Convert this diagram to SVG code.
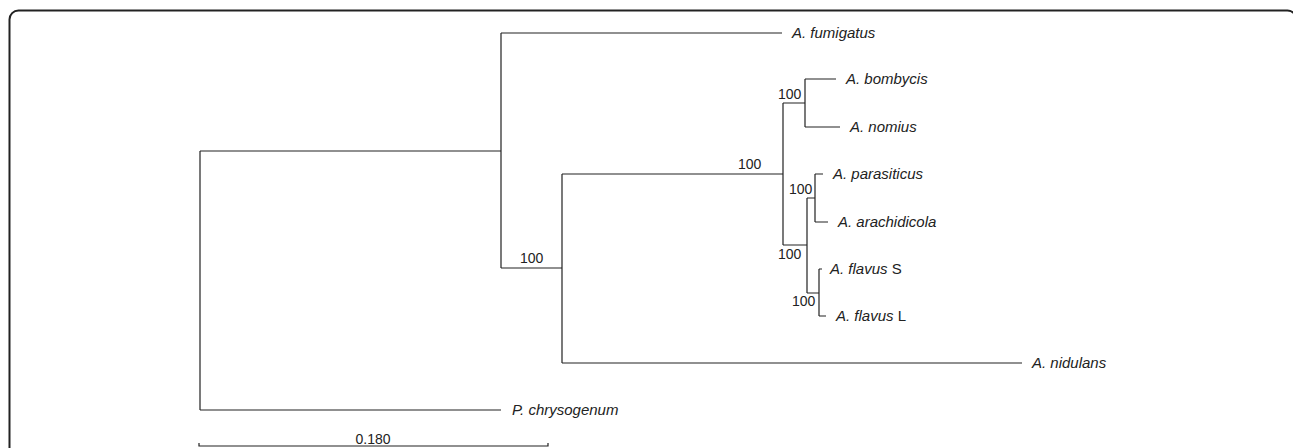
<svg xmlns="http://www.w3.org/2000/svg" width="1293" height="448" viewBox="0 0 1293 448">
<style>
.frame{fill:none;stroke:#222;stroke-width:2}
.br{fill:none;stroke:#222;stroke-width:1.2}
.tx{font-family:"Liberation Sans",Arial,sans-serif;font-size:14px;fill:#222}
.nm{font-size:15px}
.sp{font-style:italic}
</style>
<rect class="frame" x="9.5" y="10.5" width="1287" height="470" rx="9"/>
<g id="connectors">
<path class="br" d="M200,151 V410 M200,151 H501 M200,410 H501"/>
<path class="br" d="M501,33 V268 M501,33 H782 M501,268 H562"/>
<path class="br" d="M562,174 V363 M562,174 H783 M562,363 H1022"/>
<path class="br" d="M783,103 V245 M783,103 H805 M783,245 H807"/>
<path class="br" d="M805,79 V127 M805,79 H836 M805,127 H840"/>
<path class="br" d="M807,198 V293 M807,198 H815 M807,293 H819"/>
<path class="br" d="M815,174 V222 M815,174 H823 M815,222 H828"/>
<path class="br" d="M819,269 V316 M819,269 H822 M819,316 H826"/>
</g>
<g id="taxa">
<g id="fumigatus"><text class="tx nm sp" x="792" y="38">A. fumigatus</text></g>
<g id="bombycis"><text class="tx nm sp" x="846" y="84">A. bombycis</text></g>
<g id="nomius"><text class="tx nm sp" x="850" y="132">A. nomius</text></g>
<g id="parasiticus"><text class="tx nm sp" x="833" y="179">A. parasiticus</text></g>
<g id="arachidicola"><text class="tx nm sp" x="838" y="227">A. arachidicola</text></g>
<g id="flavusS"><text class="tx nm" x="830" y="274"><tspan class="sp">A. flavus</tspan> S</text></g>
<g id="flavusL"><text class="tx nm" x="836" y="321"><tspan class="sp">A. flavus</tspan> L</text></g>
<g id="nidulans"><text class="tx nm sp" x="1032" y="368">A. nidulans</text></g>
<g id="chrysogenum"><text class="tx nm sp" x="512" y="415">P. chrysogenum</text></g>
</g>
<g id="support">
<text class="tx" x="520" y="263">100</text>
<text class="tx" x="738" y="169">100</text>
<text class="tx" x="778" y="99">100</text>
<text class="tx" x="789" y="194">100</text>
<text class="tx" x="778" y="259">100</text>
<text class="tx" x="792" y="306">100</text>
</g>
<g id="scalebar">
<path class="br" d="M199,443 V446 H548 V443"/>
<text class="tx" x="373" y="444" text-anchor="middle">0.180</text>
</g>
</svg>
